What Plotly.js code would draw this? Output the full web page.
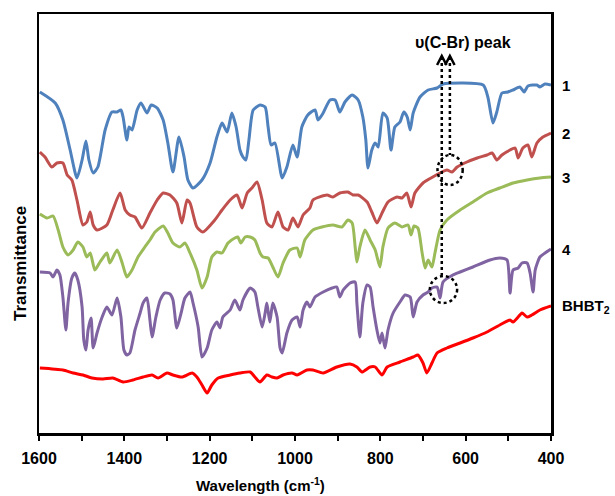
<!DOCTYPE html>
<html>
<head>
<meta charset="utf-8">
<script src="https://cdn.plot.ly/plotly-3.0.1.min.js"></script>
<style>html,body{margin:0;padding:0;background:#fff;}#chart{width:615px;height:496px;}</style>
</head>
<body>
<div id="chart"></div>
<script>
// Wavenumber (cm-1) and transmittance (arbitrary units, curves offset)
const wn1 = [1598,1562,1544,1527,1511,1499,1490,1483,1473,1462,1445,1429,1417,1408,1403,1394,1389,1382,1370,1361,1347,1337,1323,1309,1298,1286,1272,1260,1251,1239,1218,1199,1183,1171,1159,1148,1138,1129,1122,1115,1108,1098,1082,1070,1063,1056,1047,1030,1019,1005,995,984,970,953,946,934,918,906,895,883,866,852,841,834,829,820,812,805,794,784,775,766,754,745,737,730,723,707,688,667,653,559,548,536,527,515,501,489,473,463,454,433,426,414,400];
const t1  = [341,330,313,283,255,273,292,273,260,266,303,321,321,323,316,293,306,303,323,330,320,328,325,313,290,261,296,276,253,245,253,270,296,310,301,320,306,283,276,273,293,323,328,326,306,288,290,255,266,288,276,306,318,323,313,320,333,333,321,331,338,333,316,293,265,283,290,286,320,315,283,306,311,321,316,303,320,336,343,345,349,348,336,310,321,340,341,343,346,341,347,348,346,349,348];

const wn2 = [1598,1586,1570,1558,1544,1534,1523,1511,1497,1488,1480,1473,1464,1441,1427,1410,1398,1387,1375,1359,1340,1323,1309,1293,1277,1265,1253,1246,1230,1216,1188,1171,1152,1136,1124,1112,1101,1089,1077,1066,1054,1040,1028,1016,1005,993,981,965,958,925,911,895,876,864,852,831,820,808,796,782,761,749,738,728,719,700,677,660,644,632,620,597,573,550,538,527,515,496,484,477,466,454,445,433,419,400];
const t2  = [281,276,266,270,270,258,253,233,208,211,221,208,203,208,223,240,223,218,216,205,220,233,240,238,230,210,233,230,206,201,213,223,233,238,225,240,245,251,233,210,206,221,206,203,215,206,218,225,233,238,236,240,241,238,238,231,221,210,220,231,236,235,240,226,240,250,256,260,263,261,266,271,275,278,280,273,278,283,285,275,285,288,276,290,296,300];

const wn3 = [1598,1581,1567,1555,1544,1532,1520,1509,1497,1488,1480,1469,1457,1441,1434,1417,1405,1394,1382,1368,1352,1340,1328,1309,1298,1286,1270,1258,1246,1230,1218,1206,1195,1183,1171,1157,1141,1134,1127,1117,1105,1094,1082,1075,1063,1052,1040,1028,1012,995,988,977,958,937,911,890,876,866,859,855,848,836,824,812,801,794,782,766,749,735,728,721,712,702,695,688,679,672,660,644,613,583,550,520,489,456,426,400];
const t3  = [219,215,217,203,186,178,183,191,186,176,180,163,171,180,170,183,170,156,163,176,186,193,201,207,200,190,186,190,180,163,145,156,176,181,180,190,195,196,190,196,196,193,180,176,175,166,156,170,183,185,176,193,203,206,208,206,213,210,186,171,186,203,193,183,166,186,205,210,206,208,198,207,205,180,165,173,166,180,203,213,223,231,240,245,250,253,255,256];

const wn4 = [1598,1574,1567,1558,1551,1544,1537,1532,1523,1516,1509,1499,1495,1490,1485,1478,1473,1464,1452,1441,1429,1417,1408,1401,1394,1387,1375,1363,1356,1347,1340,1335,1326,1316,1305,1293,1286,1277,1267,1258,1246,1239,1227,1218,1206,1195,1183,1176,1169,1152,1141,1129,1122,1105,1094,1087,1077,1070,1066,1059,1052,1042,1035,1030,1019,1007,995,988,981,972,965,953,934,913,902,895,887,871,859,855,848,841,831,824,817,808,801,796,789,782,770,754,742,730,723,714,700,688,679,667,660,653,630,613,583,543,520,503,496,489,477,468,456,449,442,437,426,414,400];
const t4  = [161,160,156,163,158,136,103,130,155,160,153,126,93,83,103,115,85,100,116,126,118,135,116,83,78,80,103,120,130,135,113,96,116,133,140,139,133,105,120,135,141,130,106,76,85,103,111,105,116,123,133,123,133,145,141,126,106,120,130,111,130,116,85,80,100,113,116,106,123,131,126,136,141,145,146,136,143,150,151,130,96,130,148,146,126,103,90,100,85,103,120,131,138,136,116,131,138,141,145,146,135,151,158,161,166,173,175,173,140,163,165,170,170,160,141,163,176,180,184];

const wn5 = [1598,1544,1520,1497,1476,1450,1427,1403,1380,1356,1335,1321,1300,1286,1265,1241,1230,1218,1206,1195,1180,1152,1129,1105,1094,1082,1066,1054,1042,1028,1007,995,972,958,934,902,871,855,843,824,812,796,784,754,723,712,700,691,679,667,644,613,583,550,520,496,489,477,468,456,445,426,400];
const t5  = [65,63,60,58,55,54,55,51,53,56,58,55,60,58,56,60,56,48,40,48,55,58,60,61,56,51,58,56,55,58,60,58,63,63,60,66,69,66,61,66,66,58,66,71,76,78,70,60,70,80,85,90,95,101,108,113,111,116,120,116,118,123,127];

const seriesNames = ['1','2','3','4','BHBT<sub>2</sub>'];
const seriesX = [wn1, wn2, wn3, wn4, wn5];
const seriesY = [t1, t2, t3, t4, t5];
const colors = ['#4F81BD','#C0504D','#9BBB59','#8064A2','#FF0000'];
const xTicks = [1600,1400,1200,1000,800,600,400];

const traces = seriesX.map((x, i) => ({
  x: x, y: seriesY[i], type: 'scatter', mode: 'lines', name: seriesNames[i],
  line: {color: colors[i], width: 3, shape: 'spline', smoothing: 0.6},
  hoverinfo: 'skip'
}));

const F = 'Liberation Sans, Arial, sans-serif';
const labelAnn = seriesNames.map((n, i) => ({
  text: '<b>' + n + '</b>', xref: 'paper', x: 1, xshift: 9, xanchor: 'left',
  yref: 'y', y: seriesY[i][seriesY[i].length - 1], yanchor: 'middle',
  showarrow: false, font: {family: F, size: 15, color: '#000'}
}));

const layout = {
  width: 615, height: 496,
  margin: {l: 39, r: 64, t: 14, b: 63},
  paper_bgcolor: '#fff', plot_bgcolor: '#fff',
  showlegend: false,
  xaxis: {
    range: [1600, 400], tickvals: xTicks, ticktext: xTicks.map(String),
    ticks: 'outside', ticklen: 5, tickwidth: 2, tickcolor: '#000', ticklabelstandoff: 4,
    minor: {dtick: 100, ticks: 'outside', ticklen: 5, tickwidth: 2, tickcolor: '#000'},
    showgrid: false, zeroline: false,
    showline: true, mirror: true, linecolor: '#000', linewidth: 2.5,
    tickfont: {family: F, size: 16, color: '#000', weight: 'bold'}
  },
  yaxis: {
    range: [0, 419], showticklabels: false, ticks: '', showgrid: false, zeroline: false,
    showline: true, mirror: true, linecolor: '#000', linewidth: 2.5
  },
  annotations: labelAnn.concat([
    {text: '<b>Transmittance</b>', xref: 'paper', x: 0, xshift: -19, xanchor: 'center',
     yref: 'y', y: 169, yanchor: 'middle', textangle: -90, showarrow: false,
     font: {family: F, size: 17, color: '#000'}},
    {text: '<b>Wavelength (cm<sup>-1</sup>)</b>', xref: 'x', x: 1082, xanchor: 'center',
     yref: 'paper', y: 0, yshift: -51, yanchor: 'middle', showarrow: false,
     font: {family: F, size: 15, color: '#000'}},
    {text: '<b>υ(C-Br) peak</b>', xref: 'x', x: 606, xanchor: 'center',
     yref: 'y', y: 391, yanchor: 'middle', showarrow: false,
     font: {family: F, size: 16, color: '#000'}}
  ]),
  shapes: [
    {type: 'line', xref: 'x', yref: 'y', x0: 656, x1: 656, y0: 376, y1: 158,
     line: {color: '#000', width: 2.5, dash: 'dot'}},
    {type: 'line', xref: 'x', yref: 'y', x0: 637, x1: 637, y0: 376, y1: 278,
     line: {color: '#000', width: 2.5, dash: 'dot'}},
    {type: 'path', xref: 'x', yref: 'y', path: 'M 667,368 L 656,377 L 645,368',
     line: {color: '#000', width: 2.5}},
    {type: 'path', xref: 'x', yref: 'y', path: 'M 648,368 L 637,377 L 626,368',
     line: {color: '#000', width: 2.5}},
    {type: 'circle', xref: 'x', yref: 'y', x0: 666, x1: 607, y0: 248, y1: 278,
     line: {color: '#000', width: 2.5, dash: 'dot'}},
    {type: 'circle', xref: 'x', yref: 'y', x0: 684, x1: 620, y0: 130, y1: 157,
     line: {color: '#000', width: 2.5, dash: 'dot'}}
  ]
};

Plotly.newPlot('chart', traces, layout, {staticPlot: true, displayModeBar: false});
</script>
</body>
</html>
